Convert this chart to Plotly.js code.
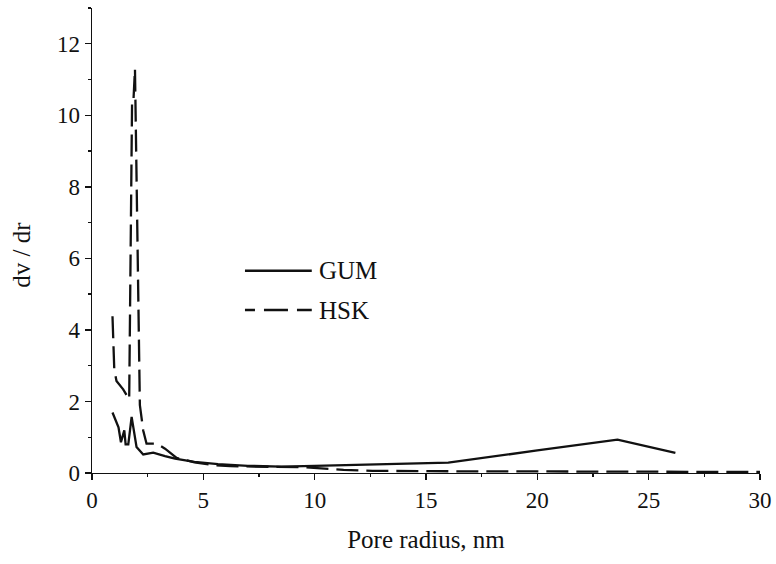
<!DOCTYPE html>
<html>
<head>
<meta charset="utf-8">
<script src="https://cdn.plot.ly/plotly-3.0.1.min.js"></script>
<style>
html,body{margin:0;padding:0;background:#fff;}
#chart{width:776px;height:564px;}
#chart text{font-family:'Liberation Serif','Times New Roman',serif !important;}
</style>
</head>
<body>
<div id="chart"></div>
<script>
// Pore radius (nm) and dv/dr values
const gumX = [0.92, 1.19, 1.30, 1.45, 1.51, 1.63, 1.78, 2.00, 2.30, 2.75, 3.28, 3.73, 4.60, 5.66, 7.0, 8.5, 10.0, 12.0, 14.0, 16.0, 20.0, 22.0, 23.6, 26.2];
const gumY = [1.69, 1.28, 0.86, 1.19, 0.80, 0.80, 1.57, 0.73, 0.52, 0.57, 0.47, 0.40, 0.31, 0.25, 0.20, 0.18, 0.20, 0.23, 0.26, 0.29, 0.63, 0.79, 0.93, 0.56];

const hskX = [0.92, 1.00, 1.10, 1.40, 1.67, 1.80, 1.86, 1.93, 2.15, 2.30, 2.45, 2.90, 3.28, 3.80, 4.60, 5.50, 6.20, 7.50, 9.50, 11.3, 12.6, 15.0, 20.0, 25.0, 30.0];
const hskY = [4.38, 2.90, 2.57, 2.34, 2.06, 10.4, 10.4, 11.3, 1.90, 1.19, 0.82, 0.82, 0.68, 0.42, 0.30, 0.22, 0.19, 0.17, 0.16, 0.09, 0.06, 0.05, 0.04, 0.03, 0.03];

const seriesNames = ['GUM', 'HSK'];
const xTitle = 'Pore radius, nm';
const yTitle = 'dv / dr';

const FONT = 'Liberation Serif';

const traces = [
  {x: gumX, y: gumY, name: seriesNames[0], type: 'scatter', mode: 'lines',
   line: {color: '#111', width: 2.3, dash: 'solid'}},
  {x: hskX, y: hskY, name: seriesNames[1], type: 'scatter', mode: 'lines',
   line: {color: '#111', width: 2.3, dash: '22px,8px'}}
];

function axisBase() {
  return {
    showgrid: false, zeroline: false, showline: true,
    linecolor: '#111', linewidth: 1.3,
    ticks: 'outside', ticklen: 6, tickwidth: 1.3, tickcolor: '#111',
    tickfont: {family: FONT, size: 23, color: '#111'}
  };
}

const layout = {
  width: 776, height: 564,
  font: {family: FONT, size: 22, color: '#111'},
  margin: {l: 92, r: 16, t: 8, b: 91},
  paper_bgcolor: '#fff', plot_bgcolor: '#fff',
  showlegend: false,
  xaxis: Object.assign(axisBase(), {
    range: [0, 30], tick0: 0, dtick: 5,
    minor: {dtick: 2.5, ticks: 'outside', ticklen: 3, tickwidth: 1.3, tickcolor: '#111', showgrid: false},
    title: {text: xTitle, font: {family: FONT, size: 25, color: '#111'}, standoff: 18}
  }),
  yaxis: Object.assign(axisBase(), {
    range: [0, 13], tick0: 0, dtick: 2,
    minor: {dtick: 1, ticks: 'outside', ticklen: 3, tickwidth: 1.3, tickcolor: '#111', showgrid: false}
  }),
  annotations: [
    {text: yTitle, xref: 'paper', yref: 'paper', x: -0.105, y: 0.469, textangle: -90,
     showarrow: false, xanchor: 'center', yanchor: 'middle',
     font: {family: FONT, size: 25, color: '#111'}},
    {text: seriesNames[0], xref: 'paper', yref: 'paper', x: 0.337, y: 0.435,
     showarrow: false, xanchor: 'left', yanchor: 'middle',
     font: {family: FONT, size: 25, color: '#111'}},
    {text: seriesNames[1], xref: 'paper', yref: 'paper', x: 0.337, y: 0.3505,
     showarrow: false, xanchor: 'left', yanchor: 'middle',
     font: {family: FONT, size: 25, color: '#111'}}
  ],
  shapes: [
    {type: 'line', xref: 'paper', yref: 'paper', x0: 0.229, x1: 0.329, y0: 0.435, y1: 0.435,
     line: {color: '#111', width: 2.3, dash: 'solid'}},
    {type: 'line', xref: 'paper', yref: 'paper', x0: 0.229, x1: 0.329, y0: 0.3505, y1: 0.3505,
     line: {color: '#111', width: 2.3, dash: '10px,9px,24px,9px,15px'}}
  ]
};

Plotly.newPlot('chart', traces, layout, {displayModeBar: false, staticPlot: true});
</script>
</body>
</html>
